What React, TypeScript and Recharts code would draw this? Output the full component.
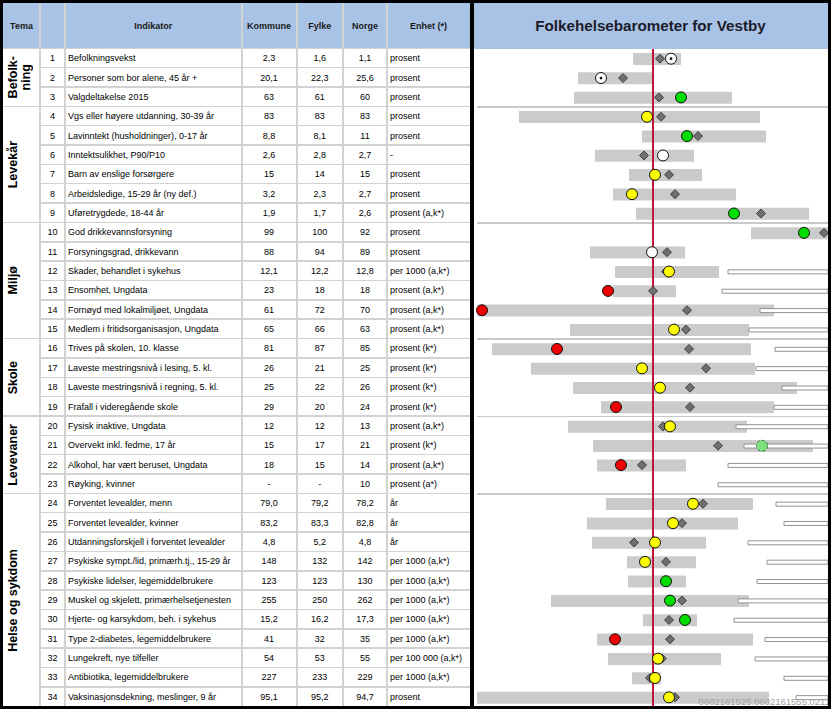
import React from 'react';
import { ComposedChart, Bar, Scatter, XAxis, YAxis, ReferenceLine } from 'recharts';

// tabellinnhold
const indikatorer = [
  'Befolkningsvekst',
  'Personer som bor alene, 45 år +',
  'Valgdeltakelse 2015',
  'Vgs eller høyere utdanning, 30-39 år',
  'Lavinntekt (husholdninger), 0-17 år',
  'Inntektsulikhet, P90/P10',
  'Barn av enslige forsørgere',
  'Arbeidsledige, 15-29 år (ny def.)',
  'Uføretrygdede, 18-44 år',
  'God drikkevannsforsyning',
  'Forsyningsgrad, drikkevann',
  'Skader, behandlet i sykehus',
  'Ensomhet, Ungdata',
  'Fornøyd med lokalmiljøet, Ungdata',
  'Medlem i fritidsorganisasjon, Ungdata',
  'Trives på skolen, 10. klasse',
  'Laveste mestringsnivå i lesing, 5. kl.',
  'Laveste mestringsnivå i regning, 5. kl.',
  'Frafall i videregående skole',
  'Fysisk inaktive, Ungdata',
  'Overvekt inkl. fedme, 17 år',
  'Alkohol, har vært beruset, Ungdata',
  'Røyking, kvinner',
  'Forventet levealder, menn',
  'Forventet levealder, kvinner',
  'Utdanningsforskjell i forventet levealder',
  'Psykiske sympt./lid, primærh.tj., 15-29 år',
  'Psykiske lidelser, legemiddelbrukere',
  'Muskel og skjelett, primærhelsetjenesten',
  'Hjerte- og karsykdom, beh. i sykehus',
  'Type 2-diabetes, legemiddelbrukere',
  'Lungekreft, nye tilfeller',
  'Antibiotika, legemiddelbrukere',
  'Vaksinasjonsdekning, meslinger, 9 år',
];
const kommune = ['2,3', '20,1', '63', '83', '8,8', '2,6', '15', '3,2', '1,9', '99', '88', '12,1', '23', '61', '65', '81', '26', '25', '29', '12', '15', '18', '-', '79,0', '83,2', '4,8', '148', '123', '255', '15,2', '41', '54', '227', '95,1'];
const fylke = ['1,6', '22,3', '61', '83', '8,1', '2,8', '14', '2,3', '1,7', '100', '94', '12,2', '18', '72', '66', '87', '21', '22', '20', '12', '17', '15', '-', '79,2', '83,3', '5,2', '132', '123', '250', '16,2', '32', '53', '233', '95,2'];
const norge = ['1,1', '25,6', '60', '83', '11', '2,7', '15', '2,7', '2,6', '92', '89', '12,8', '18', '70', '63', '85', '25', '26', '24', '13', '21', '14', '10', '78,2', '82,8', '4,8', '142', '130', '262', '17,3', '35', '55', '229', '94,7'];
const enhet = ['prosent', 'prosent', 'prosent', 'prosent', 'prosent', '-', 'prosent', 'prosent', 'prosent (a,k*)', 'prosent', 'prosent', 'per 1000 (a,k*)', 'prosent (a,k*)', 'prosent (a,k*)', 'prosent (a,k*)', 'prosent (k*)', 'prosent (k*)', 'prosent (k*)', 'prosent (k*)', 'prosent (a,k*)', 'prosent (k*)', 'prosent (a,k*)', 'prosent (a*)', 'år', 'år', 'år', 'per 1000 (a,k*)', 'per 1000 (a,k*)', 'per 1000 (a,k*)', 'per 1000 (a,k*)', 'per 1000 (a,k*)', 'per 100 000 (a,k*)', 'per 1000 (a,k*)', 'prosent'];

const temaNavn = ['Befolk-\nning', 'Levekår', 'Miljø', 'Skole', 'Levevaner', 'Helse og sykdom'];
const temaAntall = [3, 6, 6, 4, 4, 11];

// barometer, standardisert avstand fra landsnivå (Norge = 0)
const spennLav = [-0.2, -0.75, -0.79, -1.34, -0.11, -0.58, -0.24, -0.4, -0.17, 0.98, -0.63, -0.38, -0.4, -1.76, -0.83, -1.61, -1.22, -0.8, -0.52, -0.85, -0.6, -0.56, null, -0.47, -0.66, -0.61, -0.26, -0.25, -1.02, -0.1, -0.56, -0.45, -0.21, -1.76];
const spennHoy = [0.28, -0.01, 0.79, 1.07, 1.13, 0.41, 0.49, 0.83, 1.56, 1.75, 0.32, 0.66, 0.23, 1.21, 0.96, 0.98, 1.02, 1.44, 1.21, 0.94, 1.6, 0.33, null, 1.0, 0.85, 0.53, 0.43, 0.33, 0.96, 0.44, 1.0, 0.68, 0.08, 1.16];
const fylkePos = [0.07, -0.3, 0.06, 0.08, 0.45, -0.09, 0.16, 0.22, 1.08, 1.71, 0.14, 0.13, 0.0, 0.34, 0.33, 0.36, 0.53, 0.37, 0.37, 0.1, 0.65, -0.11, null, 0.5, 0.29, -0.19, 0.13, 0.13, 0.29, 0.16, 0.17, 0.09, -0.03, 0.22];
const kommunePos = [0.18, -0.52, 0.28, -0.06, 0.34, 0.1, 0.02, -0.21, 0.81, 1.51, -0.01, 0.16, -0.45, -1.71, 0.21, -0.96, -0.11, 0.07, -0.37, 0.17, 1.09, -0.32, null, 0.4, 0.2, 0.02, -0.08, 0.13, 0.17, 0.32, -0.38, 0.05, 0.02, 0.16];
const kommuneFarge = ['hvitPrikk', 'hvitPrikk', 'gronn', 'gul', 'gronn', 'hvit', 'gul', 'gul', 'gronn', 'gronn', 'hvit', 'gul', 'rod', 'rod', 'gul', 'rod', 'gul', 'gul', 'rod', 'gul', 'gronnStiplet', 'rod', null, 'gul', 'gul', 'gul', 'gul', 'gronn', 'gronn', 'gronn', 'rod', 'gul', 'gul', 'gul'];
const ekstraStart = [null, null, null, null, null, null, null, null, null, null, null, 0.75, 0.69, 1.07, 0.96, 1.22, 1.03, 1.29, 1.21, 0.83, 0.91, 0.75, 0.65, 1.23, 1.31, 0.95, 1.14, 1.04, 0.85, 0.81, 1.12, 1.02, 1.31, 1.43];

const X_MIN = -1.79;
const X_MAX = 1.75;
const TOP = 48.5;
const BODY_H = 658;
const ROW_H = BODY_H / 34;
const FONT = '"Liberation Sans", Arial, sans-serif';
const HEADER_BLUE = '#a9c3e6';
const GRID = '#d2d2d2';
const TXT = 9;

const kolonner = [
  { navn: 'Tema', x0: 3, x1: 40 },
  { navn: '', x0: 40, x1: 65 },
  { navn: 'Indikator', x0: 65, x1: 241.5 },
  { navn: 'Kommune', x0: 241.5, x1: 296.5 },
  { navn: 'Fylke', x0: 296.5, x1: 343 },
  { navn: 'Norge', x0: 343, x1: 387 },
  { navn: 'Enhet (*)', x0: 387, x1: 470 },
];

const fyll: Record<string, string> = {
  gul: '#ffff00',
  gronn: '#00dd00',
  rod: '#ee0000',
  hvit: '#ffffff',
  hvitPrikk: '#ffffff',
  gronnStiplet: '#7fe07f',
};

const Ruter = (p: any) => {
  const { cx, cy, payload } = p;
  if (payload.fylke == null || cx == null) return null;
  const s = 4.5;
  return (
    <path
      d={`M${cx},${cy - s}L${cx + s},${cy}L${cx},${cy + s}L${cx - s},${cy}Z`}
      fill="#6f6f6f"
      stroke="#2a2a2a"
      strokeWidth={0.8}
    />
  );
};

const Sirkel = (p: any) => {
  const { cx, cy, payload } = p;
  if (payload.kommune == null || cx == null) return null;
  const f = payload.farge;
  return (
    <g>
      <circle
        cx={cx}
        cy={cy}
        r={5.5}
        fill={fyll[f]}
        stroke={f === 'gronnStiplet' ? '#2f7a2f' : '#111'}
        strokeWidth={1}
        strokeDasharray={f === 'gronnStiplet' ? '3 2' : undefined}
      />
      {f === 'hvitPrikk' && <circle cx={cx} cy={cy} r={1.4} fill="#111" />}
    </g>
  );
};

export default function App() {
  const data = indikatorer.map((navn, i) => ({
    nr: i + 1,
    navn,
    spenn: spennLav[i] == null ? null : [spennLav[i], spennHoy[i]],
    ekstra: ekstraStart[i] == null ? null : [ekstraStart[i], X_MAX],
    fylke: fylkePos[i],
    kommune: kommunePos[i],
    farge: kommuneFarge[i],
  }));

  // grenser mellom temaer (radindeks)
  const grenser: number[] = [];
  let sum = 0;
  temaAntall.forEach((n) => {
    grenser.push(sum);
    sum += n;
  });

  const celle = (x0: number, x1: number, top: number, h: number, align: 'center' | 'left') => ({
    position: 'absolute' as const,
    left: x0,
    width: x1 - x0,
    top,
    height: h,
    display: 'flex',
    alignItems: 'center',
    justifyContent: align === 'center' ? 'center' : 'flex-start',
    paddingLeft: align === 'left' ? 3 : 0,
    boxSizing: 'border-box' as const,
    whiteSpace: 'nowrap' as const,
    overflow: 'hidden',
  });

  return (
    <div
      style={{
        position: 'absolute',
        left: 0,
        top: 0,
        width: 832,
        height: 712,
        background: '#fff',
        fontFamily: FONT,
        color: '#000',
      }}
    >
      {/* overskrift */}
      <div style={{ position: 'absolute', left: 3, top: 3, width: 467, height: TOP - 3, background: HEADER_BLUE }} />
      <div style={{ position: 'absolute', left: 473, top: 3, width: 355, height: TOP - 3, background: HEADER_BLUE }} />
      {kolonner.map((k, i) => (
        <div key={'h' + i} style={{ ...celle(k.x0, k.x1, 3, TOP - 3, 'center'), fontSize: 9, fontWeight: 700, color: '#1a1a1a' }}>
          {k.navn}
        </div>
      ))}
      <div
        style={{
          ...celle(473, 828, 3, TOP - 3, 'center'),
          fontSize: 15.2,
          fontWeight: 700,
          color: '#1b1b2a',
        }}
      >
        Folkehelsebarometer for Vestby
      </div>

      {/* rutenett */}
      {kolonner.slice(1).map((k, i) => (
        <div key={'v' + i} style={{ position: 'absolute', left: k.x0 - 1, top: 3, width: 2, height: 703, background: GRID }} />
      ))}
      {data.map((d, i) => (
        <div
          key={'r' + i}
          style={{
            position: 'absolute',
            left: grenser.includes(i) ? 3 : 40,
            width: grenser.includes(i) ? 467 : 430,
            top: TOP + i * ROW_H - 1,
            height: 1.5,
            background: GRID,
          }}
        />
      ))}

      {/* tabellrader */}
      {data.map((d, i) => {
        const top = TOP + i * ROW_H;
        return (
          <React.Fragment key={'t' + i}>
            <div style={{ ...celle(40, 65, top, ROW_H, 'center'), fontSize: TXT }}>{d.nr}</div>
            <div style={{ ...celle(65, 241.5, top, ROW_H, 'left'), fontSize: TXT }}>{d.navn}</div>
            <div style={{ ...celle(241.5, 296.5, top, ROW_H, 'center'), fontSize: TXT }}>{kommune[i]}</div>
            <div style={{ ...celle(296.5, 343, top, ROW_H, 'center'), fontSize: TXT }}>{fylke[i]}</div>
            <div style={{ ...celle(343, 387, top, ROW_H, 'center'), fontSize: TXT }}>{norge[i]}</div>
            <div style={{ ...celle(387, 470, top, ROW_H, 'left'), fontSize: TXT }}>{enhet[i]}</div>
          </React.Fragment>
        );
      })}

      {/* temaer */}
      {temaNavn.map((t, i) => (
        <div
          key={'tema' + i}
          style={{
            position: 'absolute',
            left: 3,
            width: 37,
            top: TOP + grenser[i] * ROW_H,
            height: temaAntall[i] * ROW_H,
            display: 'flex',
            alignItems: 'center',
            justifyContent: 'flex-start',
            paddingLeft: 4,
            boxSizing: 'border-box',
          }}
        >
          <div
            style={{
              writingMode: 'vertical-rl',
              transform: 'rotate(180deg)',
              fontSize: 12.5,
              fontWeight: 700,
              textAlign: 'center',
              lineHeight: 1.0,
              whiteSpace: 'pre',
            }}
          >
            {t}
          </div>
        </div>
      ))}

      {/* skillelinjer i barometeret */}
      {grenser.slice(1).map((g, i) => (
        <div
          key={'s' + i}
          style={{ position: 'absolute', left: 477, width: 351, top: TOP + g * ROW_H - 0.5, height: 1.5, background: '#c9c9c9' }}
        />
      ))}

      <div style={{ position: 'absolute', left: 474, top: TOP }}>
        <ComposedChart
          width={354}
          height={BODY_H}
          data={data}
          layout="vertical"
          margin={{ top: 0, right: 0, bottom: 0, left: 0 }}
        >
          <XAxis type="number" domain={[X_MIN, X_MAX]} allowDataOverflow hide />
          <YAxis type="category" dataKey="nr" hide />
          <YAxis type="category" dataKey="nr" yAxisId="ekstra" hide />
          <Bar dataKey="spenn" fill="#cbcbcb" barSize={12} isAnimationActive={false} />
          <Bar
            dataKey="ekstra"
            yAxisId="ekstra"
            fill="#ffffff"
            stroke="#929292"
            strokeWidth={1}
            barSize={4}
            isAnimationActive={false}
          />
          <ReferenceLine x={0} stroke="#c5143c" strokeWidth={2} />
          <Scatter dataKey="fylke" shape={Ruter} isAnimationActive={false} />
          <Scatter dataKey="kommune" shape={Sirkel} isAnimationActive={false} />
        </ComposedChart>
      </div>

      <div
        style={{
          position: 'absolute',
          right: 2,
          top: 697,
          fontSize: 9.5,
          lineHeight: 1,
          color: '#a0a0a0',
        }}
      >
        0602161525.0602161555.0211
      </div>

      {/* rammer */}
      <div style={{ position: 'absolute', left: 470, top: 0, width: 3.5, height: 709, background: '#000' }} />
      <div
        style={{
          position: 'absolute',
          left: 0,
          top: 0,
          width: 831,
          height: 709,
          border: '3px solid #000',
          boxSizing: 'border-box',
          pointerEvents: 'none',
        }}
      />
    </div>
  );
}
